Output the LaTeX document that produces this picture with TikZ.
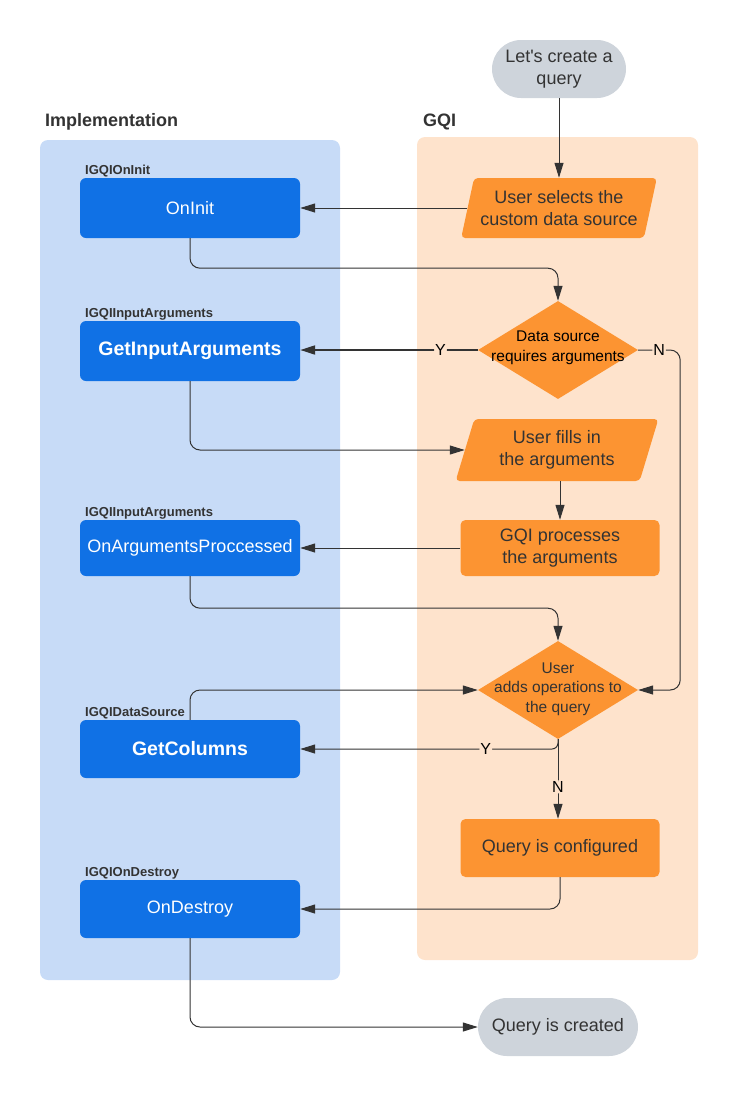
\documentclass[tikz,border=0pt]{standalone}
\usepackage{fontspec}
\setmainfont{Liberation Sans}
\usetikzlibrary{shapes.geometric,arrows.meta,positioning}
\definecolor{implblue}{HTML}{C7DBF7}
\definecolor{boxblue}{HTML}{1071E5}
\definecolor{gqipeach}{HTML}{FEE3CC}
\definecolor{gqiorange}{HTML}{FC9432}
\definecolor{pillgray}{HTML}{CED4DB}
\definecolor{inkgray}{HTML}{333333}

\begin{document}
\begin{tikzpicture}[x=1pt,y=-1pt,
  head/.style={font=\bfseries\fontsize{18}{22}\selectfont, text=inkgray, anchor=base west, inner sep=0pt},
  iface/.style={font=\bfseries\fontsize{13}{16}\selectfont, text=inkgray, anchor=base west, inner sep=0pt},
  impl node/.style={rectangle, rounded corners=6pt, fill=boxblue, text=white, minimum width=220pt, minimum height=58pt, font=\fontsize{18}{22}\selectfont},
  impl bold/.style={impl node, font=\bfseries\fontsize{19.5}{22}\selectfont},
  gqi box/.style={rectangle, rounded corners=5pt, fill=gqiorange, text=inkgray, minimum width=199pt, minimum height=56pt, align=center, font=\fontsize{18}{22}\selectfont},
  gqi io/.style={trapezium, trapezium left angle=72, trapezium right angle=108, trapezium stretches=true, rounded corners=4pt, fill=gqiorange, text=inkgray, align=center, inner sep=1pt, font=\fontsize{18}{22}\selectfont},
  gqi choice/.style={diamond, fill=gqiorange, minimum width=160pt, minimum height=98pt, inner sep=0pt},
  choice text/.style={align=center, inner sep=0pt, font=\fontsize{15.5}{19.5}\selectfont},
  terminal/.style={rectangle, rounded corners=29pt, fill=pillgray, text=inkgray, minimum height=58pt, align=center, font=\fontsize{18}{22}\selectfont},
  flow/.style={draw=inkgray, line width=1pt, -{Triangle[length=15pt,width=9pt]}, rounded corners=10pt},
  yn/.style={fill=gqipeach, text=black, inner sep=1pt, font=\fontsize{16}{18}\selectfont}]

  \useasboundingbox (0,0) rectangle (739,1098);

  % lanes
  \fill[implblue, rounded corners=8pt] (40,140) rectangle (340,980);
  \fill[gqipeach, rounded corners=8pt] (417,137) rectangle (698,960);
  \node[head] (impl) at (45,126) {Implementation};
  \node[head] (gqi) at (423,126) {GQI};

  % GQI side
  \node[terminal, minimum width=134pt] (start) at (559,69) {Let\textquotesingle s create a\\query};
  \node[gqi io, minimum width=196pt, minimum height=60pt] (select) at (559,208) {User selects the\\custom data source};
  \node[gqi choice] (needargs) at (558,350) {};
  \node[choice text] (needargs text) at (558,348) {Data source\\requires arguments};
  \node[gqi io, minimum width=203pt, minimum height=62pt] (fillin) at (557,450) {User fills in\\the arguments};
  \node[gqi box] (process) at (560,548) {GQI processes\\the arguments};
  \node[gqi choice] (addops) at (558,690) {};
  \node[choice text, text=inkgray] (addops text) at (558,689) {User\\adds operations to\\the query};
  \node[gqi box, minimum height=58pt] (configured) at (560,848) {Query is configured};
  \node[terminal, minimum width=160pt] (created) at (558,1027) {Query is created};

  % implementation side
  \node[iface] (tag1) at (85,174) {IGQIOnInit};
  \node[impl node, minimum height=60pt] (oninit) at (190,208) {OnInit};
  \node[iface] (tag2) at (85,317) {IGQIInputArguments};
  \node[impl bold, minimum height=60pt] (getargs) at (190,351) {GetInputArguments};
  \node[iface] (tag3) at (85,516) {IGQIInputArguments};
  \node[impl node, minimum height=56pt] (processed) at (190,548) {OnArgumentsProccessed};
  \node[iface] (tag4) at (85,716) {IGQIDataSource};
  \node[impl bold] (getcols) at (190,749) {GetColumns};
  \node[iface] (tag5) at (85,876) {IGQIOnDestroy};
  \node[impl node] (ondestroy) at (190,909) {OnDestroy};

  % connectors
  \path (start) edge[flow] (select);
  \draw[flow] (select.west) -- (select.west -| oninit.east);
  \draw[flow] (oninit.south) -- ++(0,30) -| (needargs.north);
  \draw[flow, line width=2pt] (needargs.west) -- node[yn, pos=0.21] {Y} (needargs.west -| getargs.east);
  \draw[flow] (needargs.east) -- node[yn] {N} ++(42,0) |- (addops.east);
  \draw[flow] (getargs.south) |- (fillin.west);
  \draw[flow] (process.north |- fillin.south) -- (process.north);
  \draw[flow] (process.west) -- (process.west -| processed.east);
  \draw[flow] (processed.south) -- ++(0,32) -| (addops.north);
  \draw[flow] (getcols.north) |- (addops.west);
  \draw[flow, rounded corners=6pt] (addops.south) |- node[yn, pos=0.64] {Y} (getcols.east);
  \draw[flow] (addops.south) -- node[yn, pos=0.6] {N} (addops.south |- configured.north);
  \draw[flow] (configured.south) |- (ondestroy.east);
  \draw[flow] (ondestroy.south) |- (created.west);
\end{tikzpicture}
\end{document}
